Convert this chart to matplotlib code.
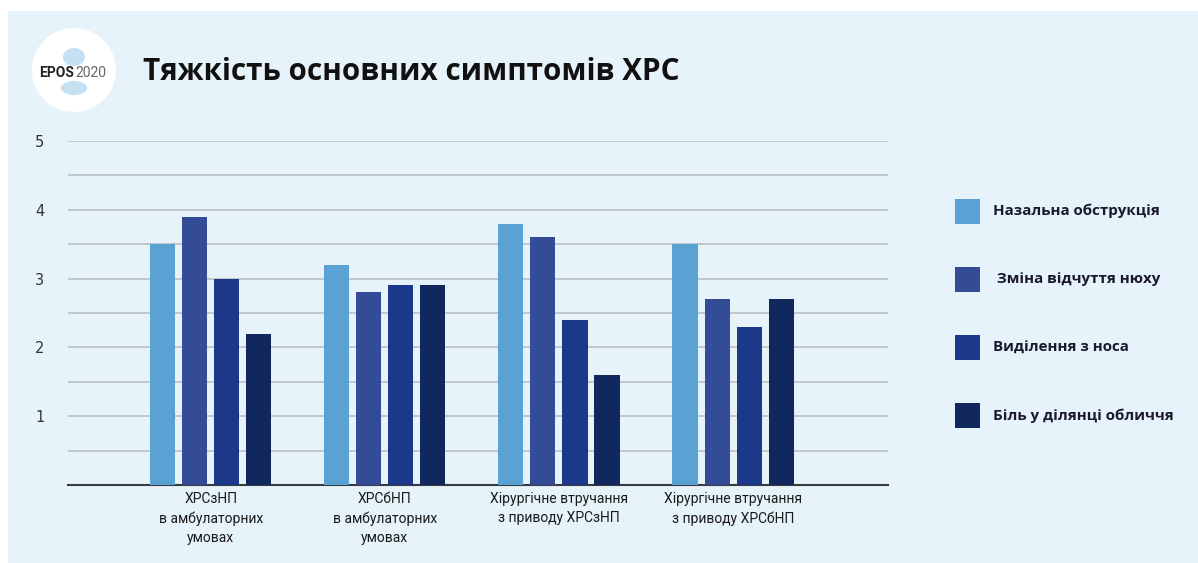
import numpy as np
import matplotlib.pyplot as plt
from matplotlib.patches import Rectangle, Ellipse

groups = ["ХРСзНП\nв амбулаторних\nумовах",
          "ХРСбНП\nв амбулаторних\nумовах",
          "Хірургічне втручання\nз приводу ХРСзНП",
          "Хірургічне втручання\nз приводу ХРСбНП"]
series = ["Назальна обструкція", " Зміна відчуття нюху",
          "Виділення з носа", "Біль у ділянці обличчя"]
nasal = [3.5, 3.2, 3.8, 3.5]
smell = [3.9, 2.8, 3.6, 2.7]
discharge = [3.0, 2.9, 2.4, 2.3]
pain = [2.2, 2.9, 1.6, 2.7]
colors = ["#5AA2D4", "#344B96", "#1B388A", "#11285F"]

W, H = 1198, 563
BG = "#E6F3FA"
fig = plt.figure(figsize=(W / 100, H / 100), dpi=100)
fig.patch.set_facecolor("white")
# light panel behind everything
fig.patches.append(Rectangle((8 / W, 0), 1, 1 - 11 / H, transform=fig.transFigure,
                             facecolor=BG, edgecolor="none", zorder=-10))

# logo
fig.patches.append(Ellipse((74 / W, 1 - 70 / H), 84 / W, 84 / H, transform=fig.transFigure,
                           facecolor="white", edgecolor="none", zorder=1))
fig.patches.append(Ellipse((74 / W, 1 - 57 / H), 22 / W, 18 / H, transform=fig.transFigure,
                           facecolor="#C4E0F2", edgecolor="none", zorder=1))
fig.patches.append(Ellipse((74 / W, 1 - 88 / H), 26 / W, 14 / H, transform=fig.transFigure,
                           facecolor="#C4E0F2", edgecolor="none", zorder=1))
fig.text(57 / W, 1 - 73 / H, "EPOS", fontsize=10, fontweight="bold", color="#222222",
         family="Roboto", ha="center", va="center", zorder=3)
fig.text(91 / W, 1 - 73 / H, "2020", fontsize=10, color="#666666",
         family="Roboto", ha="center", va="center", zorder=3)

fig.text(143 / W, 1 - 72 / H, "Тяжкість основних симптомів ХРС", fontsize=21.3,
         fontweight="bold", family="Open Sans", color="#111111", va="center")

ax = fig.add_axes([68 / W, 1 - 485 / H, 820 / W, 344 / H])
ax.set_facecolor("none")
x = np.arange(len(groups))
w = 0.144
step = 0.184
data = [nasal, smell, discharge, pain]
for i, (vals, c, lab) in enumerate(zip(data, colors, series)):
    ax.bar(x + (i - 1.5) * step, vals, width=w, color=c, label=lab, zorder=3)

ax.set_xlim(-0.82, 3.89)
ax.set_ylim(0, 5)
ax.set_yticks([1, 2, 3, 4, 5])
ax.set_yticks(np.arange(0.5, 5.01, 0.5), minor=True)
ax.yaxis.grid(True, which="both", color="#C2C6CA", linewidth=1.4, zorder=0)
for s in ["top", "right", "left"]:
    ax.spines[s].set_visible(False)
ax.spines["bottom"].set_color("#3A3A3A")
ax.spines["bottom"].set_linewidth(1.5)
ax.tick_params(axis="y", which="both", length=0, pad=17, labelsize=10.5, labelcolor="#333333")
ax.tick_params(axis="x", length=0, pad=5)
ax.set_xticks(x)
ax.set_xticklabels(groups, fontsize=10, family="Roboto",
                   color="#1a1a1a", linespacing=1.45)

# legend drawn by hand: squares with labels beside them
for i, (c, lab) in enumerate(zip(colors, series)):
    yc = 211 + i * 68.3
    fig.patches.append(Rectangle((955 / W, 1 - (yc + 12.5) / H), 25 / W, 25 / H,
                                 transform=fig.transFigure, facecolor=c, edgecolor="none"))
    fig.text(993 / W, 1 - yc / H, lab, fontsize=10.9, fontweight="bold",
             family="Open Sans", color="#1a1a2a", va="center")

fig.savefig("out.png", dpi=100, facecolor=fig.get_facecolor())
